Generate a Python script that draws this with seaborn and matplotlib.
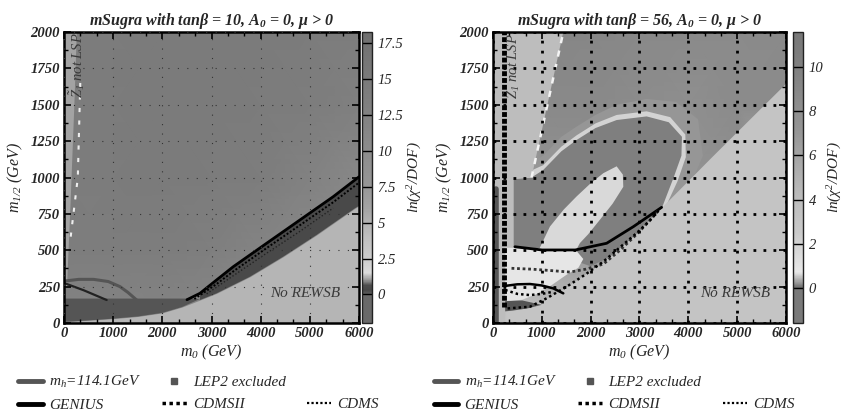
import numpy as np
import matplotlib
matplotlib.use("Agg")
import matplotlib.pyplot as plt
import seaborn as sns
from matplotlib.colors import LinearSegmentedColormap, Normalize
from matplotlib.cm import ScalarMappable
from matplotlib.lines import Line2D
from matplotlib.ticker import MultipleLocator

# ---------------- data ----------------
m0_grid = [0, 1000, 2000, 3000, 4000, 5000, 6000]
m12_grid = [0, 500, 1000, 1500, 2000]

# coarse ln(chi2/DOF) field, rows = m12_grid, cols = m0_grid
chi_left = [
    [12.0, 12.0, 12.0, 11.0, 10.0, 10.0, 10.0],
    [14.0, 14.0, 14.0, 13.5, 12.0, 11.0, 10.0],
    [14.5, 14.5, 14.8, 14.5, 14.0, 12.5, 11.0],
    [14.5, 14.5, 14.8, 14.8, 14.5, 14.0, 13.0],
    [14.5, 14.5, 14.8, 14.8, 14.8, 14.5, 14.0],
]
chi_right = [
    [3.2, 3.2, 3.2, 3.2, 3.2, 3.2, 3.2],
    [4.2, 6.5, 7.0, 8.0, 3.2, 3.2, 3.2],
    [4.2, 7.5, 8.0, 8.3, 7.5, 8.0, 3.2],
    [4.2, 8.8, 8.8, 8.3, 8.0, 8.5, 8.5],
    [4.2, 9.2, 9.0, 8.8, 8.6, 8.5, 8.6],
]

# ---- tan(beta) = 10 panel ----
rewsb_l_m0 = [0, 1000, 1500, 2000, 2400, 2764, 3103, 3780, 4458, 5136, 5915, 6000]
rewsb_l_m12 = [8, 30, 45, 70, 110, 158, 204, 318, 456, 605, 788, 805]
rewsb_l_val = 4.8
strip_top_m0 = [6000, 5915, 5474, 4797, 4120, 3442, 3103, 2764]
strip_top_m12 = [1005, 983, 868, 708, 548, 387, 296, 204]
strip_l_val = 0.4
lep2_l_m0 = [0, 0, 2500, 2764, 2400, 2000, 1500, 1000, 500, 0]
lep2_l_m12 = [8, 168, 168, 165, 110, 70, 45, 30, 18, 8]
zlsp_l_m0 = [0, 0, 260, 210, 130, 60]
zlsp_l_m12 = [250, 2000, 2000, 1500, 800, 250]
zlsp_l_val = 6.0
zdash_l_m0 = [330, 280, 120]
zdash_l_m12 = [1650, 1000, 550]

mh_l_m0 = [0, 300, 600, 900, 1138, 1300, 1477]
mh_l_m12 = [288, 300, 300, 285, 250, 210, 158]
genius_l_m0 = [2500, 2764, 3103, 3442, 4120, 4797, 5474, 5915, 6000]
genius_l_m12 = [160, 204, 296, 387, 548, 708, 868, 983, 1005]
genius_l2_m0 = [0, 400, 867]
genius_l2_m12 = [275, 225, 158]
cdmsii_l_m0 = [2650, 3103, 3442, 4120, 4797, 5474, 6000]
cdmsii_l_m12 = [165, 268, 355, 515, 672, 830, 965]
cdms_l_m0 = [2900, 3442, 4120, 4797, 5474]
cdms_l_m12 = [200, 325, 480, 630, 790]

# ---- tan(beta) = 56 panel ----
halo2_m0 = [420, 420, 650, 1030, 1400, 1713, 2100, 2533, 3147, 3750, 4200, 4300, 4050, 3700]
halo2_m12 = [520, 1060, 1080, 1150, 1280, 1350, 1430, 1500, 1540, 1520, 1400, 1150, 950, 800]
halo2_val = 7.0
halo1_m0 = [420, 420, 700, 1030, 1400, 1713, 2100, 2533, 3147, 3630, 3940, 3950, 3780, 3540]
halo1_m12 = [520, 1025, 1035, 1085, 1212, 1290, 1372, 1430, 1455, 1415, 1295, 1140, 975, 800]
halo1_val = 2.0
ring_m0 = [420, 420, 790, 1030, 1400, 1713, 2100, 2533, 3147, 3600, 3870, 3860, 3700, 3470,
           3150, 2800, 2400, 2000, 1750, 1500, 950]
ring_m12 = [520, 990, 1000, 1052, 1180, 1258, 1340, 1395, 1420, 1380, 1280, 1150, 1000, 800,
            700, 575, 455, 390, 420, 500, 515]
ring_val = 10.2
core_m0 = [950, 1167, 1450, 1713, 2000, 2261, 2533, 2660, 2669, 2450, 2191, 1950, 1782, 1700]
core_m12 = [510, 663, 780, 870, 960, 1030, 1077, 1020, 936, 820, 710, 610, 550, 500]
core_val = 1.6
low_m0 = [250, 250, 950, 1700, 1850, 1750, 1500, 1200, 900, 600, 250]
low_m12 = [150, 520, 515, 500, 440, 380, 330, 260, 200, 160, 150]
low_val = 0.8
rewsb_r_m0 = [260, 758, 1509, 2260, 2943, 3450, 4500, 6000]
rewsb_r_m12 = [90, 105, 250, 422, 618, 795, 1150, 1650]
rewsb_r_val = 3.2
zlsp_r_m0 = [0, 0, 1440, 790, 420, 420, 250, 250]
zlsp_r_m12 = [0, 2000, 2000, 1000, 990, 520, 520, 0]
zlsp_r_val = 4.0
zdash_r_m0 = [790, 1440]
zdash_r_m12 = [1000, 2000]
lep2_r_m0 = [250, 250, 600, 1000, 700, 400]
lep2_r_m12 = [80, 150, 155, 125, 100, 85]

mh_r_m0 = [55, 55]
mh_r_m12 = [0, 920]
genius_r_m0 = [450, 1004, 1686, 2328, 2874, 3454]
genius_r_m12 = [524, 502, 502, 548, 662, 795]
genius_r2_m0 = [250, 500, 758, 1000, 1235, 1440]
genius_r2_m12 = [255, 266, 268, 258, 238, 204]
cdmsii_r_m0 = [380, 800, 1200, 1577, 1900, 2260, 2600, 2943, 3200, 3420]
cdmsii_r_m12 = [376, 370, 360, 350, 370, 405, 500, 610, 700, 785]
cdmsii_rv_m0 = [235, 235]
cdmsii_rv_m12 = [110, 2000]
cdms_r_m0 = [300, 758, 1100, 1509, 1900, 2260, 2600, 2943, 3200, 3420]
cdms_r_m12 = [100, 112, 170, 250, 335, 422, 520, 618, 700, 785]
cdms_r2_m0 = [250, 500, 758, 1000, 1235]
cdms_r2_m12 = [227, 200, 192, 200, 215]

# colour scales (value -> grey level)
left_cm_vals = [-2, -0.02, 0.0, 0.3, 0.6, 1.0, 1.5, 2.5, 4.0, 5.0, 6.0, 7.5, 10, 12.5, 15, 17.5, 18.3]
left_cm_grey = [.41, .41, .36, .28, .30, .60, .86, .80, .75, .70, .64, .59, .55, .51, .48, .45, .43]
right_cm_vals = [-1.6, -0.02, 0.0, 0.15, 0.7, 1.5, 2.5, 3.5, 4.5, 5.5, 7.0, 9.0, 10.5, 11.6]
right_cm_grey = [.48, .48, .42, .55, .91, .86, .79, .76, .72, .67, .59, .53, .49, .47]

LEP2_COLOR = "#555555"
MH_COLOR = "#555555"


def make_cmap(vals, greys):
    lo, hi = vals[0], vals[-1]
    nodes = [((v - lo) / (hi - lo), (g, g, g)) for v, g in zip(vals, greys)]
    return LinearSegmentedColormap.from_list("chi", nodes, N=512), Normalize(lo, hi)


sns.set_theme(style="ticks")
plt.rcParams["font.family"] = ["Liberation Serif", "DejaVu Serif"]
plt.rcParams["font.style"] = "italic"
plt.rcParams["mathtext.default"] = "regular"
plt.rcParams["xtick.direction"] = "in"
plt.rcParams["ytick.direction"] = "in"

fig = plt.figure(figsize=(8.46, 4.17), dpi=100)
ax_l = fig.add_axes([0.0757, 0.2254, 0.3487, 0.6978])
cax_l = fig.add_axes([0.4279, 0.2254, 0.0118, 0.6978])
ax_r = fig.add_axes([0.5827, 0.2254, 0.3463, 0.6978])
cax_r = fig.add_axes([0.9373, 0.2254, 0.0118, 0.6978])

cmap_l, norm_l = make_cmap(left_cm_vals, left_cm_grey)
cmap_r, norm_r = make_cmap(right_cm_vals, right_cm_grey)


def col(cmap, norm, v):
    return cmap(norm(v))


def style_axes(ax, grid_kw):
    ax.set_xlim(0, 6000)
    ax.set_ylim(0, 2000)
    ax.xaxis.set_major_locator(MultipleLocator(1000))
    ax.xaxis.set_minor_locator(MultipleLocator(1000 / 3))
    ax.yaxis.set_major_locator(MultipleLocator(250))
    ax.yaxis.set_minor_locator(MultipleLocator(125))
    ax.tick_params(which="both", top=True, right=True, color="black")
    ax.tick_params(which="major", length=5, width=1.2, labelsize=10.5, pad=3)
    ax.tick_params(which="minor", length=3, width=1.0)
    for lab in ax.get_xticklabels() + ax.get_yticklabels():
        lab.set_fontweight("bold")
        lab.set_fontstyle("italic")
    for s in ax.spines.values():
        s.set_linewidth(1.8)
        s.set_color("black")
    ax.set_axisbelow(False)
    ax.grid(True, which="major", **grid_kw)
    ax.set_xlabel(r"m$_0$ (GeV)", fontsize=11.5, labelpad=2)
    ax.set_ylabel(r"m$_{1/2}$ (GeV)", fontsize=11.5, labelpad=4)


def style_cbar(cax, cmap, norm, ticks, labels):
    cb = fig.colorbar(ScalarMappable(norm=norm, cmap=cmap), cax=cax)
    cb.outline.set_linewidth(1.0)
    cb.outline.set_edgecolor("#222222")
    cax.set_yticks(ticks)
    cax.set_yticklabels(labels)
    cax.tick_params(length=0, pad=4, labelsize=10.5)
    for t in ticks:
        cax.axhline(t, color="black", lw=1.0)
    cax.set_ylabel(r"ln($\chi^2$/DOF)", fontsize=11, labelpad=2)
    cax.yaxis.set_label_position("right")


def line(ax, x, y, **kw):
    sns.lineplot(x=x, y=y, ax=ax, sort=False, estimator=None, legend=False, **kw)


# ---------------- left panel ----------------
ax = ax_l
ax.pcolormesh(m0_grid, m12_grid, np.array(chi_left), shading="gouraud",
              cmap=cmap_l, norm=norm_l, zorder=0.5)
ax.fill(zlsp_l_m0, zlsp_l_m12, color=col(cmap_l, norm_l, zlsp_l_val), lw=0, zorder=0.8)
ax.fill_between(rewsb_l_m0, 0, rewsb_l_m12, color=col(cmap_l, norm_l, rewsb_l_val), lw=0, zorder=1.0)
strip_m0 = rewsb_l_m0[5:] + strip_top_m0
strip_m12 = rewsb_l_m12[5:] + strip_top_m12
ax.fill(strip_m0, strip_m12, color=col(cmap_l, norm_l, strip_l_val), lw=0, zorder=1.1)
ax.fill(lep2_l_m0, lep2_l_m12, color=LEP2_COLOR, lw=0, zorder=1.1)
line(ax, zdash_l_m0, zdash_l_m12, color="#eeeeee", lw=1.5, linestyle=(0, (2, 4)), zorder=1.5)

line(ax, mh_l_m0, mh_l_m12, color=MH_COLOR, lw=2.2, zorder=2)
line(ax, genius_l2_m0, genius_l2_m12, color="#222222", lw=1.6, zorder=2)
line(ax, genius_l_m0, genius_l_m12, color="black", lw=2.0, zorder=2)
line(ax, cdmsii_l_m0, cdmsii_l_m12, color="black", lw=1.4, linestyle=(0, (1, 1)), zorder=2)
line(ax, cdms_l_m0, cdms_l_m12, color="#222222", lw=1.0, linestyle=(0, (1, 1.5)), zorder=2)

style_axes(ax, dict(color="#333333", lw=0.8, linestyle=(0, (1, 7.5))))
ax.text(4900, 206, "No REWSB", fontsize=11, color="#3a3a3a", ha="center", va="center", zorder=3)
ax.text(270, 1775, r"$\tilde{Z}_1$ not LSP", fontsize=10.5, color="#3a3a3a", rotation=90,
        ha="center", va="center", zorder=3)
ax.set_title(r"mSugra with tan$\beta$ = 10, A$_0$ = 0, $\mu$ > 0", fontsize=11.5,
             fontweight="bold", pad=5)
style_cbar(cax_l, cmap_l, norm_l, [0, 2.5, 5, 7.5, 10, 12.5, 15, 17.5],
           ["0", "2.5", "5", "7.5", "10", "12.5", "15", "17.5"])

# ---------------- right panel ----------------
ax = ax_r
ax.pcolormesh(m0_grid, m12_grid, np.array(chi_right), shading="gouraud",
              cmap=cmap_r, norm=norm_r, zorder=0.5)
ax.fill(halo2_m0, halo2_m12, color=col(cmap_r, norm_r, halo2_val), lw=0, zorder=0.6)
ax.fill(halo1_m0, halo1_m12, color=col(cmap_r, norm_r, halo1_val), lw=0, zorder=0.65)
ax.fill(ring_m0, ring_m12, color=col(cmap_r, norm_r, ring_val), lw=0, zorder=0.7)
ax.fill(core_m0, core_m12, color=col(cmap_r, norm_r, core_val), lw=0, zorder=0.75)
ax.fill(low_m0, low_m12, color=col(cmap_r, norm_r, low_val), lw=0, zorder=0.8)
ax.fill_between(rewsb_r_m0, 0, rewsb_r_m12, color=col(cmap_r, norm_r, rewsb_r_val), lw=0, zorder=1.0)
ax.fill(zlsp_r_m0, zlsp_r_m12, color=col(cmap_r, norm_r, zlsp_r_val), lw=0, zorder=1.05)
ax.fill(lep2_r_m0, lep2_r_m12, color=LEP2_COLOR, lw=0, zorder=1.1)
line(ax, zdash_r_m0, zdash_r_m12, color="#f4f4f4", lw=1.8, linestyle=(0, (2.5, 3)), zorder=1.5)

line(ax, mh_r_m0, mh_r_m12, color=MH_COLOR, lw=4.0, zorder=2)
line(ax, genius_r_m0, genius_r_m12, color="black", lw=2.0, zorder=2)
line(ax, genius_r2_m0, genius_r2_m12, color="black", lw=1.8, zorder=2)
line(ax, cdmsii_r_m0, cdmsii_r_m12, color="#333333", lw=2.0, linestyle=(0, (1, 1)), zorder=2)
line(ax, cdmsii_rv_m0, cdmsii_rv_m12, color="black", lw=3.5, linestyle=(0, (1, 0.4)), zorder=2)
line(ax, cdms_r_m0, cdms_r_m12, color="black", lw=1.8, linestyle=(0, (1, 1.2)), zorder=2)
line(ax, cdms_r2_m0, cdms_r2_m12, color="black", lw=1.8, linestyle=(0, (1, 1.2)), zorder=2)

style_axes(ax, dict(color="black", lw=2.0, linestyle=(0, (1, 2.6))))
ax.text(4955, 206, "No REWSB", fontsize=11, color="#3a3a3a", ha="center", va="center", zorder=3)
ax.text(390, 1765, r"$\tilde{Z}_1$ not LSP", fontsize=10.5, color="#3a3a3a", rotation=90,
        ha="center", va="center", zorder=3)
ax.set_title(r"mSugra with tan$\beta$ = 56, A$_0$ = 0, $\mu$ > 0", fontsize=11.5,
             fontweight="bold", pad=5)
style_cbar(cax_r, cmap_r, norm_r, [0, 2, 4, 6, 8, 10], ["0", "2", "4", "6", "8", "10"])

# ---------------- legends ----------------
handles = [
    Line2D([], [], color=MH_COLOR, lw=3.5),
    Line2D([], [], color="black", lw=3.5),
    Line2D([], [], color=LEP2_COLOR, marker="s", markersize=5, ls="none"),
    Line2D([], [], color="black", lw=2.5, ls=(0, (1, 1))),
    Line2D([], [], ls="none"),
    Line2D([], [], color="black", lw=1.6, ls=(0, (1, 1))),
]
labels = [r"m$_h$=114.1GeV", "GENIUS", "LEP2 excluded", "CDMSII", "", "CDMS"]
for ax, x0 in ((ax_l, -0.176), (ax_r, -0.222)):
    ax.legend(handles, labels, ncol=3, loc="upper left", bbox_to_anchor=(x0, -0.155),
              frameon=False, fontsize=11, handlelength=1.6, handletextpad=0.4,
              columnspacing=1.4, labelspacing=0.55, borderaxespad=0)

fig.savefig("out.png", dpi=100)
